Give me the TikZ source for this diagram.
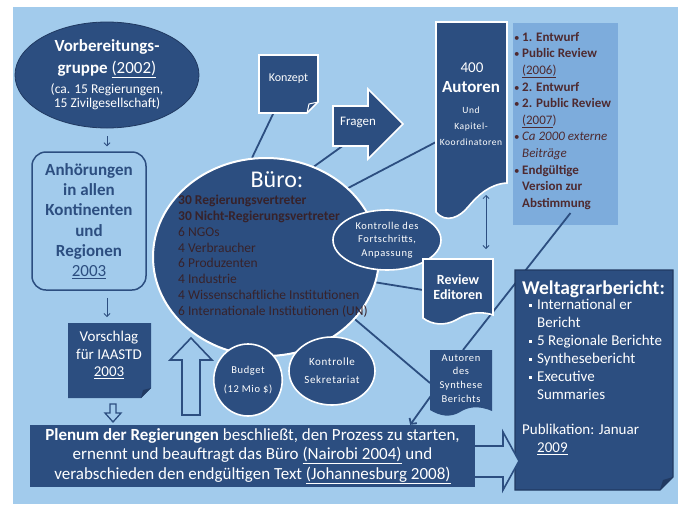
\documentclass[tikz,border=0pt]{standalone}
\usepackage{fontspec}
\setmainfont{Carlito}
\newfontfamily\spaced[LetterSpace=6]{Carlito}
\usetikzlibrary{shapes.geometric,arrows.meta}
\definecolor{bgblue}{RGB}{162,203,236}
\definecolor{navy}{RGB}{44,78,128}
\definecolor{navydark}{RGB}{33,58,98}
\definecolor{listbox}{RGB}{125,172,220}
\definecolor{brownt}{RGB}{78,42,48}
\definecolor{buerot}{RGB}{55,34,42}
\pgfdeclarelayer{back}
\pgfdeclarelayer{lines}
\pgfsetlayers{back,lines,main}
\newcommand\fs[2]{\fontsize{#1}{#2}\selectfont}
\newcommand\lb{\makebox[8pt][l]{\fs{11}{13}\textbullet}}
\newcommand\li{\hspace*{8pt}}
\newcommand\sqb{\makebox[15pt][l]{\hspace{7pt}\rule[3pt]{2.6pt}{2.6pt}}}
\newcommand\si{\hspace*{15pt}}
\begin{document}
\begin{tikzpicture}[x=1pt,y=-1pt,
  wtext/.style={text=white,align=center,inner sep=0pt},
  abox/.style={inner sep=0pt,outer sep=0pt},
  conn/.style={draw=navy,line width=1.8pt},
  thinarrow/.style={draw=navy,line width=0.8pt,-{Straight Barb[length=3pt,width=6pt]}},
  hollow/.style={draw=navy,line width=1.6pt,fill=bgblue,line join=miter},
  wellipse/.style={ellipse,fill=navy,draw=white,line width=1.6pt,inner sep=0pt},
]
\useasboundingbox (0,0) rectangle (683,504);
\begin{pgfonlayer}{back}
\fill[white] (0,0) rectangle (683,504);
\fill[bgblue] (13,7) rectangle (678,504);
\node[abox,fill=listbox,minimum width=105pt,minimum height=202pt] (lbox) at (565.5,124) {};
\end{pgfonlayer}

% Vorbereitungsgruppe
\node[ellipse,fill=navy,draw=navydark,line width=0.8pt,minimum width=184pt,minimum height=106pt] (vorb) at (107,75) {};
\node[wtext,font=\fs{17}{22}\bfseries] (vorbT1) at (107,59) {Vorbereitungs-\\gruppe \mdseries\underline{(2002)}};
\node[wtext,font=\fs{13.5}{14.5}] (vorbT2) at (107,96.5) {(ca. 15 Regierungen,\\15 Zivilgesellschaft)};

% Anhoerungen
\node[draw=navy,line width=1.5pt,rounded corners=14pt,minimum width=114pt,minimum height=138pt,
  text=navy,font=\fs{17}{20.2}\bfseries,align=center,inner sep=0pt] (anh) at (89,221)
  {Anh\"orungen\\in allen\\Kontinenten\\und\\Regionen\\\underline{\mdseries 2003}};

% Vorschlag
\fill[navy] (68,323)--(151,323)--(151,388)--(141,398)--(68,398)--cycle;
\fill[navydark] (141,398)--(143,390)--(151,388)--cycle;
\node[abox,minimum width=83pt,minimum height=75pt] (vors) at (109.5,360.5) {};
\node[wtext,font=\fs{15}{17.5}] (vorsT) at (109,355) {Vorschlag\\f\"ur IAASTD\\\underline{2003}};

\draw[thinarrow,shorten <=8pt,shorten >=5pt] (vorb.south) -- (vorb.south |- anh.north);
\draw[thinarrow,shorten <=7pt,shorten >=6pt] (vorb.south |- anh.south) -- (vorb.south |- vors.north);

% small hollow arrow down
\draw[hollow,line width=1.3pt] (110,404)--(116,404)--(116,413)--(121,413)--(113,422)--(105,413)--(110,413)--cycle;

% Konzept
\filldraw[fill=navy,draw=white,line width=1.6pt] (259,55)--(318,55)--(318,102)--(307,113)--(259,113)--cycle;
\draw[white,line width=1pt] (307,113)--(309,104)--(318,102);
\node[abox,minimum width=59pt,minimum height=58pt] (konz) at (288.5,84) {};
\node[wtext,font=\fs{12}{14}] (konzT) at (288.5,79) {Konzept};

% Fragen
\filldraw[fill=navy,draw=white,line width=1.6pt] (333,106)--(368,106)--(368,89)--(403,124)--(368,159)--(368,146)--(333,146)--cycle;
\node[abox,minimum width=35pt,minimum height=40pt] (frag) at (350.5,126) {};
\node[wtext,font=\fs{13}{15}] (fragT) at (358,122) {Fragen};

% Autoren
\filldraw[fill=navy,draw=white,line width=1.6pt] (436,22)--(507,22)--(507,183)
  .. controls (490,184) and (478,195) .. (468,207)
  .. controls (460,217) and (446,224) .. (436,212) -- cycle;
\node[abox,minimum width=71pt,minimum height=190pt] (aut) at (471.5,117) {};
\node[wtext,font=\fs{15}{18}] (aut400) at (472,68) {400};
\node[wtext,font=\fs{17}{20}\bfseries] (autA) at (471,87) {Autoren};
\node[wtext,font=\fs{9.5}{16}\spaced] (autU) at (471,126) {Und\\Kapitel-\\Koordinatoren};

% Bullet list
\node[anchor=north west,inner sep=0pt,align=left,text=brownt,font=\fs{13}{16.6}] (listT) at (514,32)
{\lb\textbf{1. Entwurf}\\
\lb\textbf{Public Review}\\
\li\underline{(2006)}\\
\lb\textbf{2. Entwurf}\\
\lb\textbf{2. Public Review}\\
\li\underline{(2007}{)}\\
\lb\textit{Ca 2000 externe}\\
\li\textit{Beitr\"age}\\
\lb\textbf{Endg\"ultige}\\
\li\textbf{Version zur}\\
\li\textbf{Abstimmung}};

% Buero
\node[wellipse,line width=2pt,minimum width=226pt,minimum height=198pt] (buero) at (266,257) {};
\node[wtext,font=\fs{24}{26}] (bueroT) at (277,180) {B\"uro:};
\node[anchor=north west,inner sep=0pt,align=left,text=buerot,font=\fs{13.5}{15.8}] (bueroL) at (178,195)
{\textbf{30 Regierungsvertreter}\\
\textbf{30 Nicht-Regierungsvertreter}\\
6 NGOs\\
4 Verbraucher\\
6 Produzenten\\
4 Industrie\\
4 Wissenschaftliche Institutionen\\
6 Internationale Institutionen (UN)};

% Kontrolle des Fortschritts
\node[wellipse,minimum width=108pt,minimum height=60pt,text=white,align=center,font=\fs{10.5}{13.5}\spaced] (kfa) at (387,240)
  {Kontrolle des\\Fortschritts,\\Anpassung};

% Budget, Kontrolle Sekretariat
\node[wellipse,minimum width=68pt,minimum height=72pt,text=white,align=center,font=\fs{10.5}{19}\spaced] (budg) at (248,380)
  {Budget\\(12 Mio \$)};
\node[wellipse,minimum width=86pt,minimum height=68pt,text=white,align=center,font=\fs{11}{18}\spaced] (ksek) at (332,371)
  {Kontrolle\\Sekretariat};

% big hollow up arrow
\draw[hollow] (182,415)--(182,360)--(170,360)--(191,338)--(212,360)--(200,360)--(200,415)--cycle;

% Review Editoren
\filldraw[fill=navy,draw=white,line width=1.6pt] (423,259)--(493,259)--(493,315)
  .. controls (478,310) and (466,314) .. (456,320)
  .. controls (445,326) and (432,325) .. (423,318) -- cycle;
\node[abox,minimum width=70pt,minimum height=60pt] (rev) at (458,289) {};
\node[wtext,font=\fs{14}{15.5}\bfseries] (revT) at (458,287) {Review\\Editoren};

% Autoren des Synthese Berichts
\fill[navy] (430,350)--(492,350)--(492,411)
  .. controls (478,405) and (468,407) .. (460,412)
  .. controls (450,418) and (440,416) .. (430,410) -- cycle;
\node[abox,minimum width=62pt,minimum height=60pt] (syn) at (461,380) {};
\node[wtext,font=\fs{10.5}{13.7}\spaced] (synT) at (461,378.5) {Autoren\\des\\Synthese\\Berichts};

% Weltagrarbericht
\filldraw[fill=navy,draw=navydark,line width=1.2pt] (515,270)--(673,270)--(673,477)--(660,490)--(515,490)--cycle;
\fill[navydark] (660,490)--(663,480)--(673,477)--cycle;
\node[abox,minimum width=158pt,minimum height=220pt] (welt) at (594,380) {};
\node[anchor=north west,inner sep=0pt,align=left,text=white,font=\fs{15}{18}] (weltT) at (522,281)
{{\fs{19.5}{22}\bfseries Weltagrarbericht:}\\[-3pt]
\sqb International er\\
\si Bericht\\
\sqb 5 Regionale Berichte\\
\sqb Synthesebericht\\
\sqb Executive\\
\si Summaries\\[17pt]
Publikation: Januar\\
\si\underline{2009}};

% Plenum
\node[fill=navy,minimum width=445pt,minimum height=62pt,inner sep=0pt,text=white,align=center,font=\fs{17}{19.5}] (plen) at (252.5,456)
{\textbf{Plenum der Regierungen} beschlie\ss t, den Prozess zu starten,\\
ernennt und beauftragt das B\"uro \underline{(Nairobi 2004)} und\\
verabschieden den endg\"ultigen Text \underline{(Johannesburg 2008)}};

% right hollow arrow
\draw[hollow] (475,446)--(503,446)--(503,432)--(519,461)--(503,490)--(503,477)--(475,477);

% connectors
\begin{pgfonlayer}{lines}
\draw[conn] ([xshift=-15pt]konz.south) -- (buero.98);
\draw[conn] ([xshift=-8pt]frag.south) -- (buero.62);
\draw[conn] ([yshift=-25pt]aut.west) -- (buero.40);
\draw[conn] (buero.-13) -- ([yshift=-1pt]rev.west);
\draw[conn] (buero.-35) -- ([yshift=-3pt]syn.west);
\draw[conn] ([xshift=5pt,yshift=12pt]lbox.south) -- ([xshift=2pt]syn.north);
\end{pgfonlayer}
\draw[navy,line width=0.8pt,{Straight Barb[length=3pt,width=6pt]}-{Straight Barb[length=3pt,width=6pt]}]
  ([xshift=14.5pt,yshift=17pt]aut.south) -- ([xshift=28pt,yshift=10pt]rev.north);
\draw[conn,-{Straight Barb[length=4pt,width=9pt]}] ([xshift=3pt,yshift=-13pt]syn.west) -- ([xshift=-65pt]plen.north east);
\end{tikzpicture}
\end{document}
